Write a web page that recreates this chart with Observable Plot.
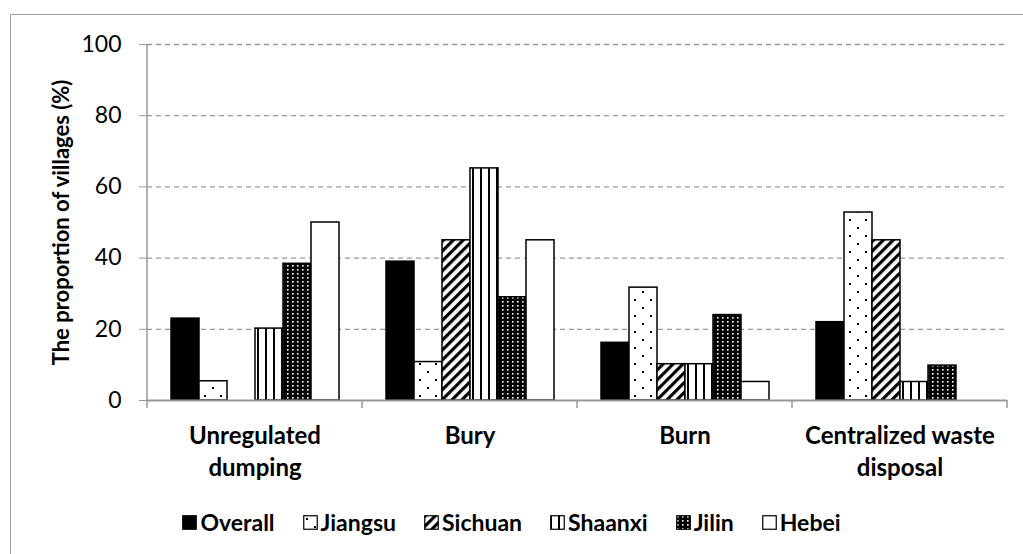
<!DOCTYPE html>
<html>
<head>
<meta charset="utf-8">
<script src="https://cdn.jsdelivr.net/npm/d3@7"></script>
<script src="https://cdn.jsdelivr.net/npm/@observablehq/plot@0.6"></script>
<style>
  html, body { margin: 0; padding: 0; background: white; overflow: hidden; }
  body { width: 1023px; height: 554px; position: relative; font-family: Lato, "Open Sans", sans-serif; }
  #frame { position: absolute; left: 10px; top: 14px; width: 1100px; height: 600px;
           border-left: 1.5px solid #a0a0a0; border-top: 1.5px solid #a0a0a0; }
  #chart { position: absolute; left: 0; top: 0; }
  #legend { position: absolute; left: 0; top: 508px; width: 1023px; display: flex; justify-content: center;
            gap: 28px; font-weight: bold; font-size: 23px; line-height: 28px; color: #000; }
  #legend .item { display: flex; align-items: center; gap: 3px; }
  #legend svg { display: block; }
  svg g[aria-label="y-axis tick label"] { font-size: 23px; }
</style>
</head>
<body>
<svg width="0" height="0" style="position:absolute">
  <defs>
    <pattern id="p-jiangsu" width="16" height="16" patternUnits="userSpaceOnUse">
      <rect width="16" height="16" fill="white"/>
      <rect x="3" y="3" width="2" height="2" fill="black"/>
      <rect x="11" y="11" width="2" height="2" fill="black"/>
    </pattern>
    <pattern id="p-sichuan" width="7" height="7" patternUnits="userSpaceOnUse" patternTransform="rotate(45)">
      <rect width="7" height="7" fill="white"/>
      <rect width="3.2" height="7" fill="black"/>
    </pattern>
    <pattern id="p-shaanxi" width="8" height="8" patternUnits="userSpaceOnUse">
      <rect width="8" height="8" fill="white"/>
      <rect x="0" width="2" height="8" fill="black"/>
    </pattern>
    <pattern id="p-jilin" width="5" height="4" patternUnits="userSpaceOnUse">
      <rect width="5" height="4" fill="black"/>
      <rect x="1" y="1" width="1.6" height="1.6" fill="white"/>
    </pattern>
  </defs>
</svg>
<div id="frame"></div>
<div id="chart"></div>
<div id="legend"></div>
<script>
const categories = ["Unregulated dumping", "Bury", "Burn", "Centralized waste disposal"];
const categoryLabels = ["Unregulated\ndumping", "Bury", "Burn", "Centralized waste\ndisposal"];
const series = ["Overall", "Jiangsu", "Sichuan", "Shaanxi", "Jilin", "Hebei"];
const overall = [23.0, 39.0, 16.2, 22.0];
const jiangsu = [5.4, 10.8, 31.7, 52.8];
const sichuan = [0, 45.0, 10.2, 45.0];
const shaanxi = [20.2, 65.2, 10.2, 5.2];
const jilin   = [38.4, 29.0, 24.0, 9.8];
const hebei   = [50.0, 45.0, 5.2, 0];
const yTicks = [0, 20, 40, 60, 80, 100];
const yTitle = "The proportion of villages (%)";
const seriesFills = ["black", "url(#p-jiangsu)", "url(#p-sichuan)", "url(#p-shaanxi)", "url(#p-jilin)", "white"];

const seriesValues = [overall, jiangsu, sichuan, shaanxi, jilin, hebei];
const data = [];
categories.forEach((cat, i) => {
  series.forEach((s, j) => data.push({cat, series: s, value: seriesValues[j][i]}));
});

const chart = Plot.plot({
  width: 1023,
  height: 490,
  marginLeft: 146,
  marginRight: 15,
  marginTop: 44,
  marginBottom: 90,
  style: {fontFamily: "Lato, 'Open Sans', sans-serif", fontSize: "20px", color: "black", background: "transparent"},
  fx: {domain: categories, padding: 0},
  x: {domain: series, paddingInner: 0, paddingOuter: 0.72, axis: null},
  y: {domain: [0, 100]},
  color: {domain: series, range: seriesFills},
  marks: [
    Plot.ruleY(yTicks.filter(d => d > 0), {stroke: "#999", strokeWidth: 1.3, strokeDasharray: "5,4"}),
    Plot.barY(data.filter(d => d.value > 0), {fx: "cat", x: "series", y: "value", fill: "series", stroke: "black", strokeWidth: 1.5}),
    Plot.ruleY([0], {stroke: "#999", strokeWidth: 2}),
    Plot.axisY(yTicks, {tickSize: 8, tickPadding: 18, stroke: "#999", fill: "black", label: null}),
    Plot.axisFx({anchor: "bottom", tickSize: 0, tickPadding: 20, fontWeight: "bold", fontSize: 24, lineHeight: 1.36,
                 tickFormat: d => categoryLabels[categories.indexOf(d)], label: null}),
    Plot.text([yTitle], {fx: () => categories[0], frameAnchor: "left", textAnchor: "middle", lineAnchor: "middle",
                         rotate: -90, dx: -86, text: d => d, fontWeight: "bold", fontSize: 22, fill: "black"})
  ]
});
document.getElementById("chart").appendChild(chart);

// axis line and category separators from the chart's own scales
const fxs = chart.scale("fx"), ys = chart.scale("y");
const y0 = ys.apply(0), yTop = ys.apply(100);
const edges = categories.map(c => fxs.apply(c)).concat([fxs.apply(categories[categories.length - 1]) + fxs.bandwidth]);
const g = d3.select(chart).append("g").attr("stroke", "#999").attr("stroke-width", 1.5);
g.selectAll("line.sep").data(edges).join("line").attr("class", "sep")
  .attr("x1", d => d).attr("x2", d => d).attr("y1", y0).attr("y2", y0 + 8);
g.append("line").attr("x1", edges[0]).attr("x2", edges[0]).attr("y1", yTop).attr("y2", y0);

// legend
const legend = d3.select("#legend");
series.forEach((s, j) => {
  const item = legend.append("div").attr("class", "item");
  const sw = item.append("svg").attr("width", 15).attr("height", 15);
  sw.append("rect").attr("x", 0.75).attr("y", 0.75).attr("width", 13.5).attr("height", 13.5)
    .attr("fill", seriesFills[j]).attr("stroke", "black").attr("stroke-width", 1.2);
  item.append("span").text(s);
});
</script>
</body>
</html>
